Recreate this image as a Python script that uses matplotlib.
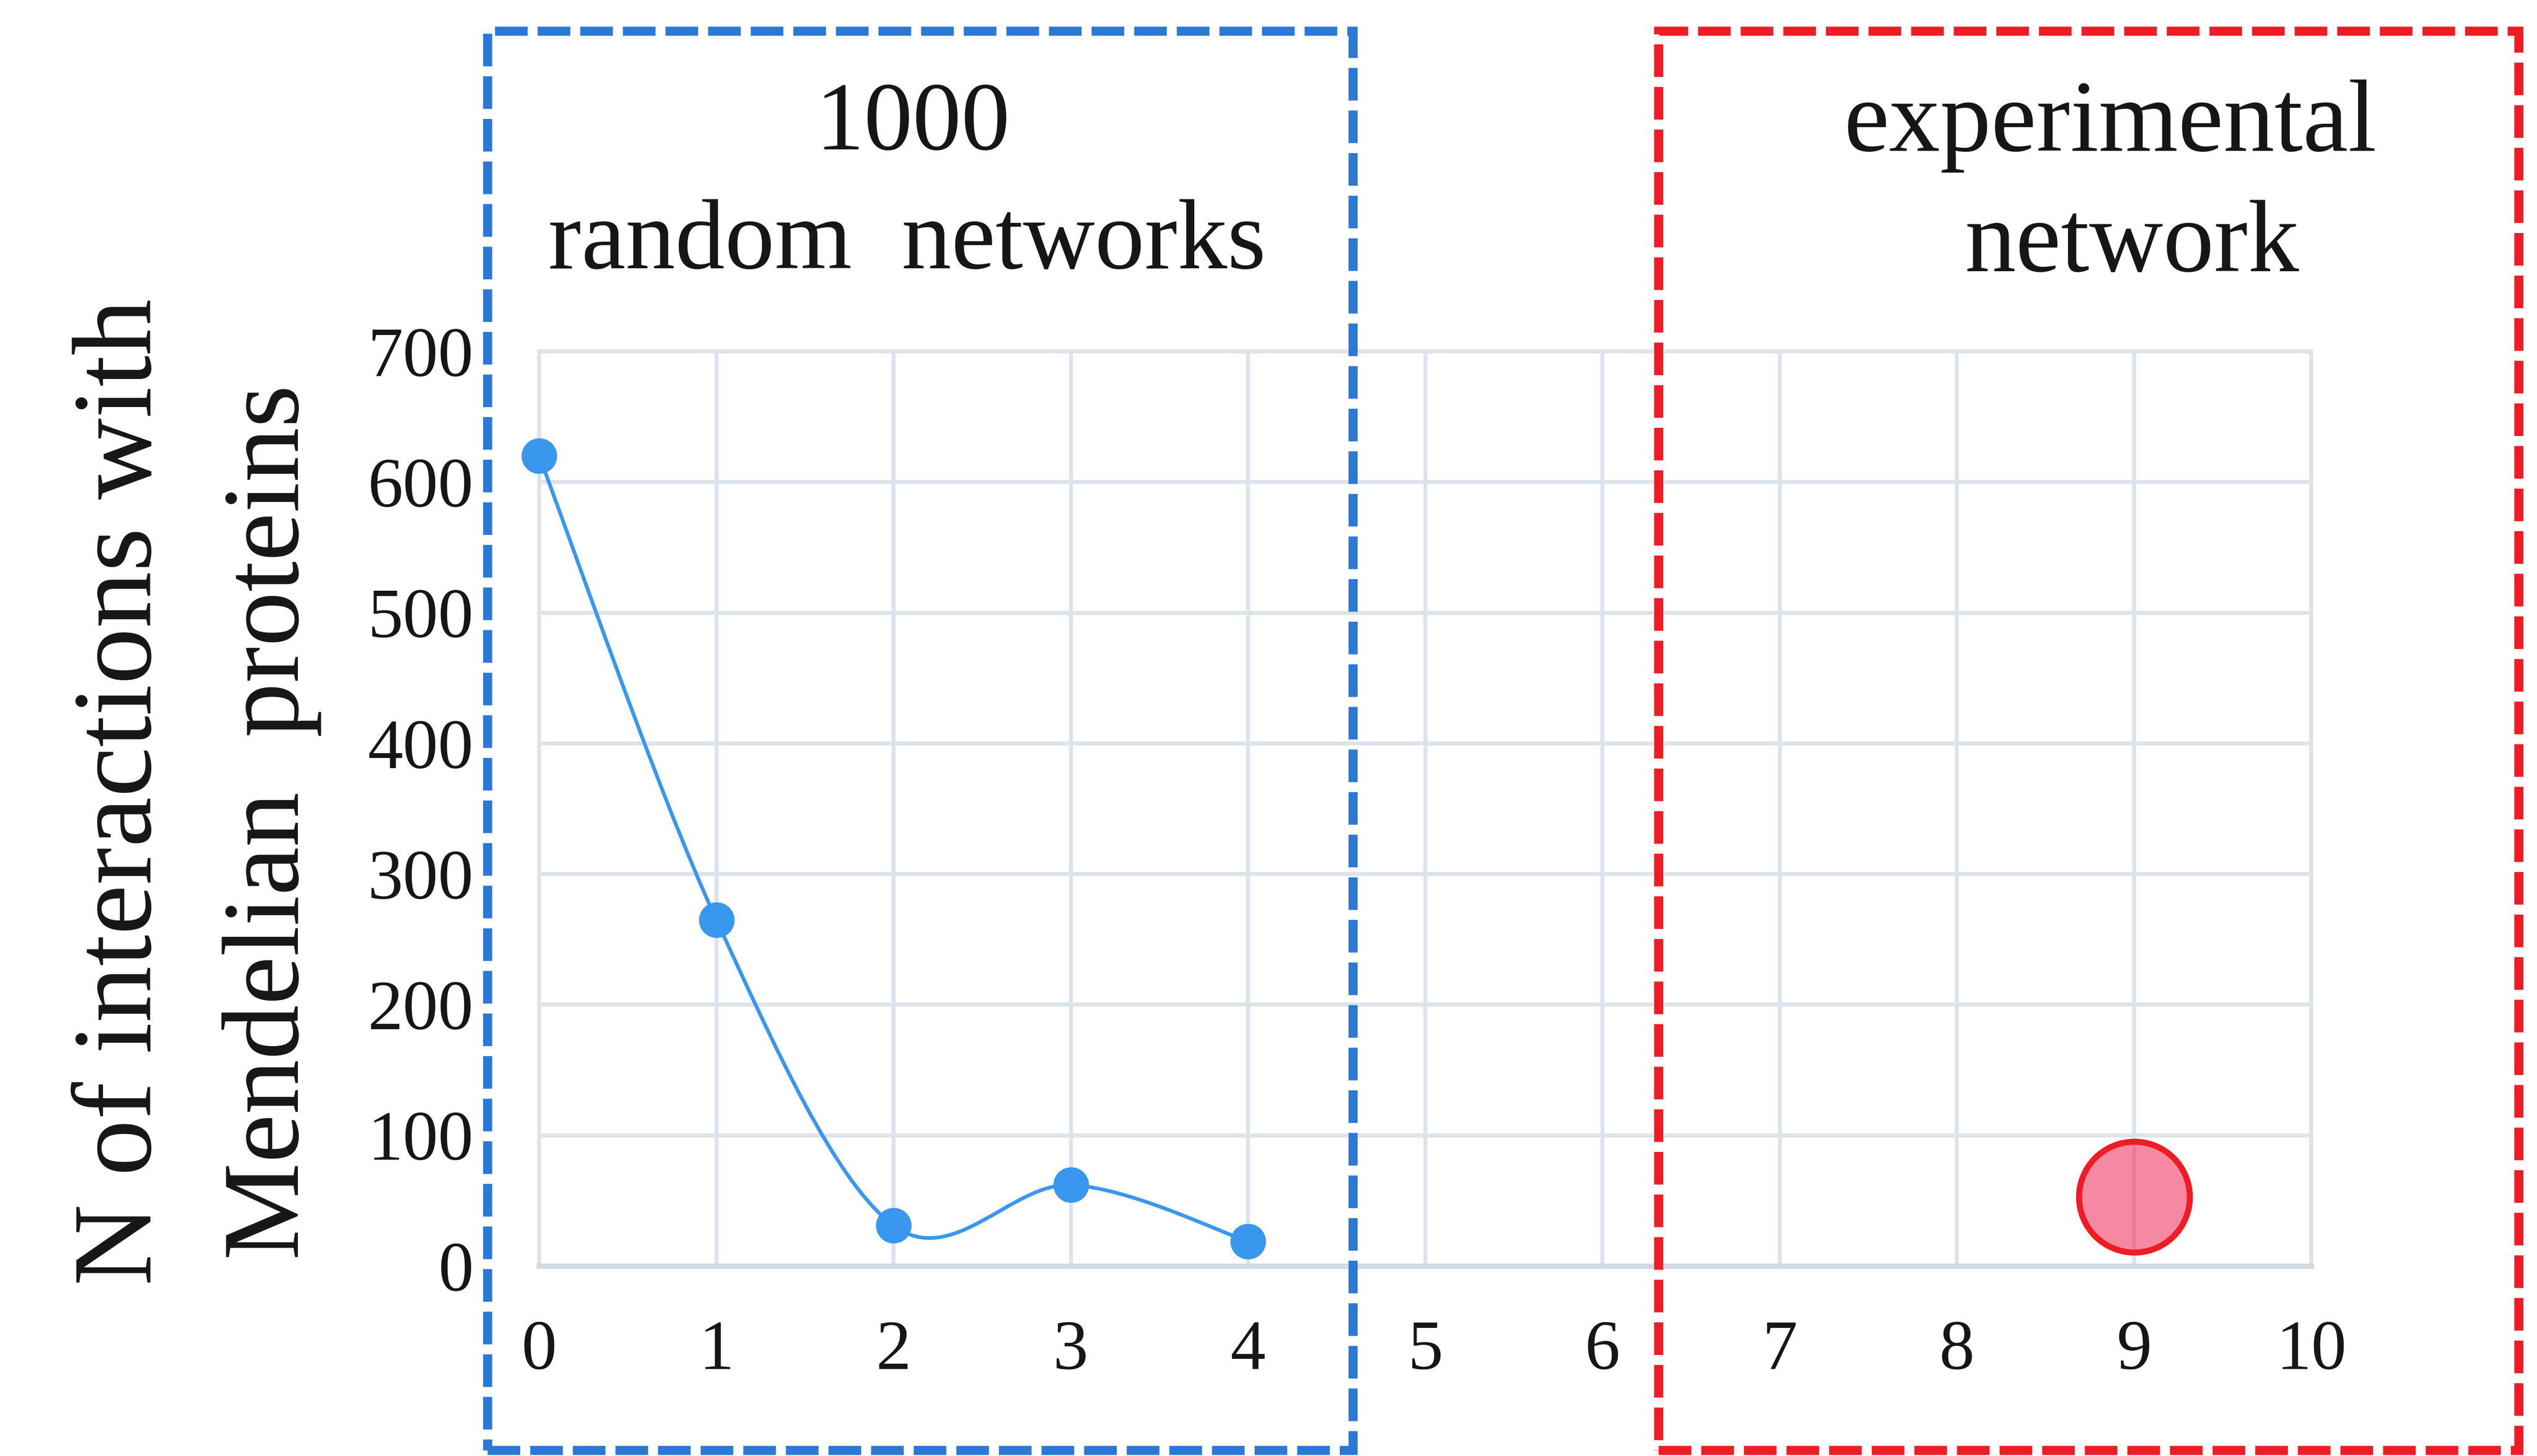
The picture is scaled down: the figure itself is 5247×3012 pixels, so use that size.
import matplotlib
matplotlib.use('Agg')
import matplotlib.pyplot as plt
from matplotlib.path import Path
from matplotlib.patches import PathPatch, Rectangle

# data
random_x = [0, 1, 2, 3, 4]
random_y = [620, 265, 31, 62, 19]
exp_x = [9]
exp_y = [53]
x_ticks = list(range(0, 11))
y_ticks = list(range(0, 701, 100))

BLUE = "#3A97EE"
BOX_BLUE = "#2B78D6"
BOX_RED = "#EE1C25"
GRID = "#DCE3EA"
TEXT = "#161616"

plt.rcParams['font.family'] = ['Liberation Serif', 'DejaVu Serif']

W, H = 5247, 3012
fig = plt.figure(figsize=(W / 100, H / 100), dpi=100)
fig.patch.set_facecolor('white')


def fx(px):
    return px / W


def fy(py):
    return 1 - py / H


ax = fig.add_axes([fx(1115), fy(2619), fx(4780) - fx(1115), fy(727) - fy(2619)])
ax.set_xlim(0, 10)
ax.set_ylim(0, 700)
ax.set_xticks(x_ticks)
ax.set_yticks(y_ticks)
ax.grid(True, color=GRID, linewidth=6)
ax.set_axisbelow(True)
for side in ['left', 'top', 'right']:
    ax.spines[side].set_color(GRID)
    ax.spines[side].set_linewidth(6)
ax.spines['bottom'].set_color("#D2DAE3")
ax.spines['bottom'].set_linewidth(8)
ax.tick_params(axis='x', length=0, pad=80, labelsize=105, labelcolor=TEXT)
ax.tick_params(axis='y', length=0, pad=98, labelsize=105, labelcolor=TEXT)


# smoothed line through the random network points (Catmull-Rom style bezier)
def smooth_path(xs, ys):
    pts = list(zip(xs, ys))
    n = len(pts)
    verts = [pts[0]]
    codes = [Path.MOVETO]
    for i in range(n - 1):
        p0 = pts[i - 1] if i > 0 else pts[i]
        p1 = pts[i]
        p2 = pts[i + 1]
        p3 = pts[i + 2] if i + 2 < n else pts[i + 1]
        c1 = (p1[0] + (p2[0] - p0[0]) / 6, p1[1] + (p2[1] - p0[1]) / 6)
        c2 = (p2[0] - (p3[0] - p1[0]) / 6, p2[1] - (p3[1] - p1[1]) / 6)
        verts += [c1, c2, p2]
        codes += [Path.CURVE4] * 3
    return Path(verts, codes)


ax.add_patch(PathPatch(smooth_path(random_x, random_y), facecolor='none',
                       edgecolor=BLUE, linewidth=5.5, zorder=3))
ax.plot(random_x, random_y, linestyle='none', marker='o', markersize=52,
        color=BLUE, zorder=4, clip_on=False)

ax.plot(exp_x, exp_y, linestyle='none', marker='o', markersize=165,
        markerfacecolor=(0.933, 0.227, 0.384, 0.6), markeredgecolor=BOX_RED,
        markeredgewidth=9, zorder=4)

# y axis label (two lines)
fig.text(fx(312), fy(1638), "N of interactions with", rotation=90,
         rotation_mode='anchor', ha='center', va='baseline', fontsize=168, color=TEXT)
fig.text(fx(617), fy(1701), "Mendelian  proteins", rotation=90,
         rotation_mode='anchor', ha='center', va='baseline', fontsize=163, color=TEXT)

# group labels
fig.text(fx(1888), fy(309), "1000", ha='center', va='baseline', fontsize=145, color=TEXT)
fig.text(fx(1876), fy(555), "random  networks", ha='center', va='baseline', fontsize=148, color=TEXT)
fig.text(fx(4365), fy(312), "experimental", ha='center', va='baseline', fontsize=152, color=TEXT)
fig.text(fx(4409), fy(561), "network", ha='center', va='baseline', fontsize=152, color=TEXT)

# dashed boxes
for left, right, col in [(1008, 2798, BOX_BLUE), (3430, 5209, BOX_RED)]:
    fig.patches.append(Rectangle((fx(left), fy(3000)), fx(right) - fx(left), fy(64) - fy(3000),
                                 transform=fig.transFigure, fill=False, edgecolor=col,
                                 linewidth=13.5, linestyle=(0, (3.6, 1.1)), zorder=10))

fig.savefig("out.png", dpi=100, facecolor='white')
